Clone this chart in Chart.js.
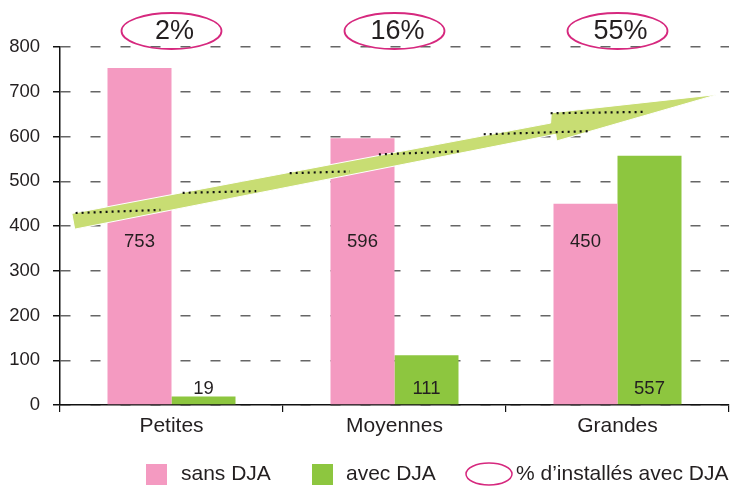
<!DOCTYPE html>
<html>
<head>
<meta charset="utf-8">
<script src="https://cdn.jsdelivr.net/npm/chart.js@4/dist/chart.umd.min.js"></script>
<style>
  body { margin: 0; background: #fff; }
  #wrap { width: 731px; height: 486px; }
</style>
</head>
<body>
<div id="wrap"><canvas id="myChart" width="731" height="486"></canvas></div>
<script>
// data
var categories = ['Petites', 'Moyennes', 'Grandes'];
var sansDJA = [753, 596, 450];
var avecDJA = [19, 111, 557];
var pctInstalles = ['2%', '16%', '55%'];
var yTicks = [0, 100, 200, 300, 400, 500, 600, 700, 800];

var pink = '#f49ac1';
var green = '#8dc63f';
var arrowGreen = '#c8dd73';
var magenta = '#d6287e';
var txt = '#231f20';
var font = '"Liberation Sans", Arial, sans-serif';

// arrow outline, x in category units, y in value units
var arrowPts = [[-0.447, 428], [1.70, 630], [1.703, 653], [2.45, 694], [1.727, 590], [1.723, 605], [-0.434, 393]];
var dotRuns = [[-0.43, -0.05, 429, 436], [0.05, 0.38, 474, 478], [0.53, 0.80, 518, 522], [0.93, 1.30, 560, 567], [1.40, 1.88, 605, 612], [1.70, 2.13, 652, 655]];

var extras = {
  id: 'extras',
  afterDatasetsDraw: function(chart) {
    var c = chart.ctx, x = chart.scales.x, y = chart.scales.y, area = chart.chartArea;
    var x0 = x.getPixelForValue(0), step = x.getPixelForValue(1) - x0;
    var px = function(i) { return x0 + i * step; };

    // data labels
    c.save();
    c.font = '18.5px ' + font;
    c.fillStyle = txt;
    c.textAlign = 'center';
    c.textBaseline = 'middle';
    chart.getDatasetMeta(0).data.forEach(function(b, i) {
      c.fillText(sansDJA[i], b.x, area.bottom - 163);
    });
    chart.getDatasetMeta(1).data.forEach(function(b, i) {
      c.fillText(avecDJA[i], b.x, area.bottom - 16);
    });

    // trend arrow
    c.beginPath();
    arrowPts.forEach(function(p, i) {
      var X = px(p[0]), Y = y.getPixelForValue(p[1]);
      if (i === 0) c.moveTo(X, Y); else c.lineTo(X, Y);
    });
    c.closePath();
    c.fillStyle = arrowGreen;
    c.fill();
    c.strokeStyle = '#fff';
    c.lineWidth = 1;
    c.stroke();

    c.strokeStyle = '#111';
    c.lineWidth = 2.2;
    c.setLineDash([2, 4]);
    dotRuns.forEach(function(r) {
      c.beginPath();
      c.moveTo(px(r[0]), y.getPixelForValue(r[2]));
      c.lineTo(px(r[1]), y.getPixelForValue(r[3]));
      c.stroke();
    });
    c.setLineDash([]);

    // percentage ellipses above each group
    c.font = '27px ' + font;
    categories.forEach(function(cat, i) {
      var cx = px(i), cy = area.top - 16;
      c.beginPath();
      c.ellipse(cx, cy, 50, 18, 0, 0, Math.PI * 2);
      c.strokeStyle = magenta;
      c.lineWidth = 1.8;
      c.stroke();
      c.fillStyle = txt;
      c.fillText(pctInstalles[i], cx + 3, cy + 1);
    });

    // legend
    var ly = 474;
    c.font = '21px ' + font;
    c.textAlign = 'left';
    c.fillStyle = pink;
    c.fillRect(146, ly - 10, 21, 21);
    c.fillStyle = txt;
    c.fillText('sans DJA', 181, ly);
    c.fillStyle = green;
    c.fillRect(312, ly - 10, 21, 21);
    c.fillStyle = txt;
    c.fillText('avec DJA', 346, ly);
    c.beginPath();
    c.ellipse(489, ly, 23, 11, 0, 0, Math.PI * 2);
    c.strokeStyle = magenta;
    c.lineWidth = 1.5;
    c.stroke();
    c.fillText('% d\u2019installés avec DJA', 516, ly);
    c.restore();
  }
};

var ctx = document.getElementById('myChart').getContext('2d');
var myChart = new Chart(ctx, {
  type: 'bar',
  data: {
    labels: categories,
    datasets: [
      { label: 'sans DJA', data: sansDJA, backgroundColor: pink },
      { label: 'avec DJA', data: avecDJA, backgroundColor: green }
    ]
  },
  options: {
    responsive: false,
    animation: false,
    events: [],
    layout: { padding: { top: 47, right: 2, left: 0, bottom: 0 } },
    datasets: { bar: { categoryPercentage: 0.574, barPercentage: 1 } },
    plugins: { legend: { display: false }, tooltip: { enabled: false } },
    scales: {
      x: {
        offset: true,
        grid: { display: true, drawOnChartArea: false, tickLength: 7, color: '#111', lineWidth: 1.2 },
        border: { display: true, color: '#111', width: 1.5 },
        ticks: { color: txt, font: { family: font, size: 21 }, padding: 2 },
        afterFit: function(s) { s.height = 81; }
      },
      y: {
        min: 0,
        max: 800,
        afterBuildTicks: function(s) { s.ticks = yTicks.map(function(v) { return { value: v }; }); },
        grid: { color: '#666', lineWidth: 1.5, tickLength: 7, tickBorderDash: [], tickColor: '#111' },
        border: { display: true, color: '#111', width: 1.5, dash: [10, 20], dashOffset: 0 },
        ticks: { color: txt, font: { family: font, size: 18.5 }, padding: 13 },
        afterFit: function(s) { s.width = 60; }
      }
    }
  },
  plugins: [extras]
});
</script>
</body>
</html>
